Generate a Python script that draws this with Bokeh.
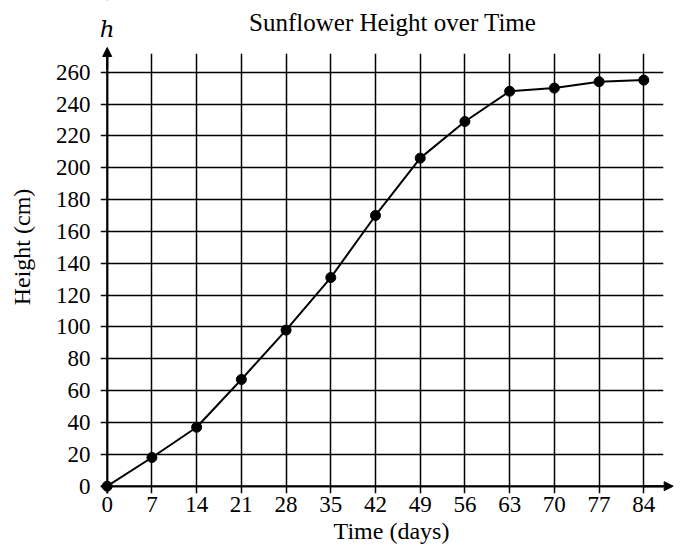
import math
from bokeh.plotting import figure
from bokeh.models import Range1d, FixedTicker, Label, Arrow, NormalHead, Span, BoxAnnotation
from bokeh.embed import file_html
from bokeh.resources import INLINE

days = [0, 7, 14, 21, 28, 35, 42, 49, 56, 63, 70, 77, 84]
height_cm = [0, 18, 37, 67, 98, 131, 170, 206, 229, 248, 250, 254, 255]
x_ticks = [0, 7, 14, 21, 28, 35, 42, 49, 56, 63, 70, 77, 84]
y_ticks = [0, 20, 40, 60, 80, 100, 120, 140, 160, 180, 200, 220, 240, 260]

FONT = "Liberation Serif"

p = figure(frame_width=582, frame_height=493,
           min_border_left=100, min_border_top=0, min_border_right=0, min_border_bottom=59,
           x_range=Range1d(-1.05, 90.06), y_range=Range1d(-4.6, 305.0),
           output_backend="svg", toolbar_location=None, tools="")
p.outline_line_color = None
p.background_fill_color = "white"
p.border_fill_color = "white"

for ax in (p.xaxis[0], p.yaxis[0]):
    ax.axis_line_color = None
    ax.major_tick_line_color = None
    ax.minor_tick_line_color = None
    ax.major_tick_out = 0
    ax.major_tick_in = 0
    ax.minor_tick_out = 0
    ax.minor_tick_in = 0
    ax.major_label_text_font = FONT
    ax.major_label_text_font_size = "23px"
    ax.major_label_text_color = "black"
    ax.axis_label_text_font = FONT
    ax.axis_label_text_font_size = "24px"
    ax.axis_label_text_font_style = "normal"
    ax.axis_label_text_color = "black"

p.xaxis[0].ticker = FixedTicker(ticks=x_ticks)
p.yaxis[0].ticker = FixedTicker(ticks=y_ticks)
p.xaxis[0].major_label_standoff = 3
p.yaxis[0].major_label_standoff = 10
p.xaxis[0].axis_label = "Time (days)"
p.xaxis[0].axis_label_standoff = 3
p.yaxis[0].axis_label = "Height (cm)"
p.yaxis[0].axis_label_standoff = 18
p.yaxis[0].bounds = (0, 275.4)

p.xgrid[0].ticker = FixedTicker(ticks=x_ticks)
p.ygrid[0].ticker = FixedTicker(ticks=y_ticks)
for g in (p.xgrid[0], p.ygrid[0]):
    g.grid_line_color = "black"
    g.grid_line_width = 1.5
    g.grid_line_alpha = 1.0

use_cross = "cross_bounds" in p.xgrid[0].properties()
if use_cross:
    p.xgrid[0].cross_bounds = (-4.6, 271.7)
    p.ygrid[0].cross_bounds = (-1.05, 87.1)

# axis lines
p.add_layout(Span(location=0, dimension="height", line_color="black", line_width=2))
p.add_layout(Span(location=0, dimension="width", line_color="black", line_width=2))

# white masks so that the axis lines / grid stop where the printed ones stop
p.add_layout(BoxAnnotation(bottom=271.7, top=400, left=-50, right=200, fill_color="white",
                           fill_alpha=1.0, line_color=None, line_alpha=0))
p.add_layout(BoxAnnotation(left=87.1, right=200, bottom=-50, top=400, fill_color="white",
                           fill_alpha=1.0, line_color=None, line_alpha=0))

# arrow heads on the axes
p.add_layout(Arrow(x_start=0, y_start=262, x_end=0, y_end=275.5, line_color="black", line_width=2,
                   end=NormalHead(size=9, fill_color="black", line_color="black")))
p.add_layout(Arrow(x_start=84, y_start=0, x_end=88.6, y_end=0, line_color="black", line_width=2,
                   end=NormalHead(size=9, fill_color="black", line_color="black")))

p.line(days, height_cm, line_color="black", line_width=2)
p.scatter(days, height_cm, size=10, fill_color="black", line_color="black")

p.add_layout(Label(x=44.7, y=291.2, text="Sunflower Height over Time", text_font=FONT,
                   text_font_size="25px", text_align="center", text_baseline="middle",
                   text_color="black"))
p.add_layout(Label(x=0, y=287.4, text="h", text_font="DejaVu Serif", text_font_style="italic",
                   text_font_size="23px", text_align="center", text_baseline="middle",
                   text_color="black"))

open("out.html", "w").write(file_html(p, INLINE))
